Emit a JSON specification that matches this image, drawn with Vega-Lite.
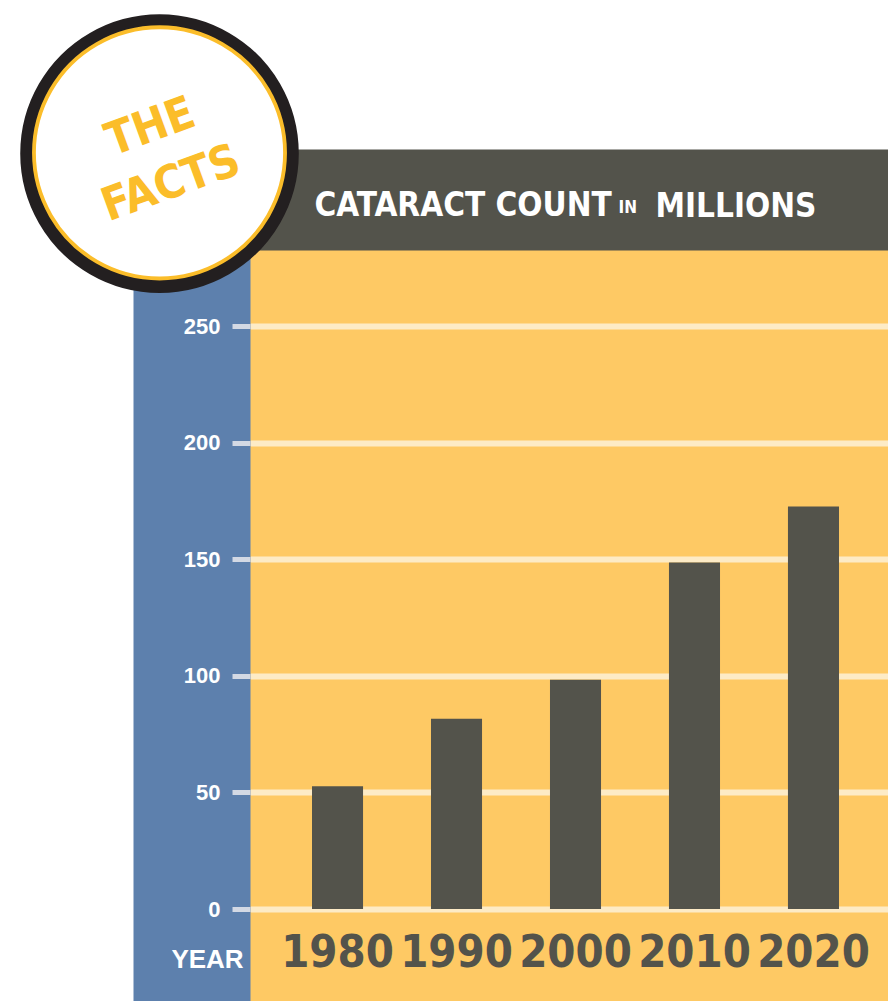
{
  "$schema": "https://vega.github.io/schema/vega-lite/v6.json",
  "width": 638,
  "height": 751,
  "autosize": {"type": "none"},
  "padding": {"left": 250, "top": 250, "right": 0, "bottom": 0},
  "background": "white",
  "config": {"view": {"stroke": null, "fill": "#fec964"}},
  "data": {"values": [
    {"year": "1980", "count": 52.6},
    {"year": "1990", "count": 81.6},
    {"year": "2000", "count": 98.3},
    {"year": "2010", "count": 148.6},
    {"year": "2020", "count": 172.6}
  ]},
  "resolve": {"axis": {"x": "independent", "y": "independent"}},
  "layer": [
    {
      "mark": {"type": "bar", "color": "#53534b"},
      "encoding": {
        "x": {"field": "year", "type": "nominal", "sort": null,
          "scale": {"domain": ["1980", "1990", "2000", "2010", "2020"], "paddingInner": 0.571, "paddingOuter": 0.4664, "align": 0.5586},
          "axis": {"orient": "bottom", "offset": -91.5, "domain": false, "ticks": false, "tickSize": 0, "grid": false,
            "labelFont": "DejaVu Sans Condensed", "labelFontWeight": "bold", "labelFontSize": 45, "labelColor": "#53534b",
            "labelPadding": 42.5, "labelBaseline": "middle", "labelAngle": 0, "labelOverlap": false, "labelBound": false, "labelFlush": false,
            "title": "YEAR", "titleX": -43, "titleY": 49.5, "titleAlign": "center", "titleBaseline": "middle", "titleAngle": 0,
            "titleFont": "Liberation Sans", "titleFontSize": 26, "titleFontWeight": "bold", "titleColor": "white", "zindex": 1}},
        "y": {"field": "count", "type": "quantitative",
          "scale": {"domain": [-39.45, 282.6], "nice": false, "zero": false},
          "axis": {"orient": "left", "offset": 58.5, "domain": true, "domainColor": "#5d80ad", "domainWidth": 117, "domainCap": "butt",
            "labels": false, "ticks": false, "grid": false,
            "title": "●", "titleFont": "DejaVu Sans", "titleFontSize": 365, "titleFontWeight": "normal", "titleColor": "#231f20",
            "titleAngle": 0, "titleX": -32.5, "titleY": -112.5, "titleAlign": "center", "titleBaseline": "middle"}}
      }
    },
    {
      "mark": {"type": "bar", "opacity": 0},
      "encoding": {
        "x": {"field": "year", "type": "nominal", "sort": null,
          "scale": {"domain": ["1980", "1990", "2000", "2010", "2020"], "paddingInner": 0.571, "paddingOuter": 0.4664, "align": 0.5586},
          "axis": {"orient": "top", "offset": 50.5, "domain": true, "domainColor": "#53534b", "domainWidth": 101, "domainCap": "butt",
            "labels": false, "ticks": false, "grid": false,
            "title": "CATARACT COUNT", "titleFont": "DejaVu Sans Condensed", "titleFontWeight": "bold", "titleFontSize": 33,
            "titleColor": "white", "titleX": 64, "titleY": 16, "titleAlign": "left", "titleBaseline": "alphabetic", "titleAngle": 0}},
        "y": {"field": "count", "type": "quantitative",
          "scale": {"domain": [-39.45, 282.6], "nice": false, "zero": false},
          "axis": {"orient": "left", "values": [0, 50, 100, 150, 200, 250], "domain": false,
            "grid": true, "gridColor": "#fdebc6", "gridWidth": 6,
            "ticks": true, "tickSize": 18, "tickWidth": 5, "tickColor": "#d3d9e4",
            "labelFont": "Liberation Sans", "labelFontWeight": "bold", "labelFontSize": 22, "labelColor": "white", "labelPadding": 12,
            "title": "●", "titleFont": "DejaVu Sans", "titleFontSize": 334, "titleFontWeight": "normal", "titleColor": "#fbbd2a",
            "titleAngle": 0, "titleX": -91, "titleY": -111.2, "titleAlign": "center", "titleBaseline": "middle"}}
      }
    },
    {
      "mark": {"type": "bar", "opacity": 0},
      "encoding": {
        "x": {"field": "year", "type": "nominal", "sort": null,
          "scale": {"domain": ["1980", "1990", "2000", "2010", "2020"], "paddingInner": 0.571, "paddingOuter": 0.4664, "align": 0.5586},
          "axis": {"orient": "top", "offset": 0, "domain": false, "labels": false, "ticks": false, "grid": false,
            "title": "IN", "titleFont": "DejaVu Sans Condensed", "titleFontWeight": "bold", "titleFontSize": 17,
            "titleColor": "white", "titleX": 368, "titleY": -38, "titleAlign": "left", "titleBaseline": "alphabetic", "titleAngle": 0}},
        "y": {"field": "count", "type": "quantitative",
          "scale": {"domain": [-39.45, 282.6], "nice": false, "zero": false},
          "axis": {"orient": "left", "domain": false, "labels": false, "ticks": false, "grid": false,
            "title": "●", "titleFont": "DejaVu Sans", "titleFontSize": 324, "titleFontWeight": "normal", "titleColor": "white",
            "titleAngle": 0, "titleX": -91, "titleY": -110.8, "titleAlign": "center", "titleBaseline": "middle"}}
      }
    },
    {
      "mark": {"type": "bar", "opacity": 0},
      "encoding": {
        "x": {"field": "year", "type": "nominal", "sort": null,
          "scale": {"domain": ["1980", "1990", "2000", "2010", "2020"], "paddingInner": 0.571, "paddingOuter": 0.4664, "align": 0.5586},
          "axis": {"orient": "top", "offset": 0, "domain": false, "labels": false, "ticks": false, "grid": false,
            "title": "MILLIONS", "titleFont": "DejaVu Sans Condensed", "titleFontWeight": "bold", "titleFontSize": 33,
            "titleColor": "white", "titleX": 405, "titleY": -34, "titleAlign": "left", "titleBaseline": "alphabetic", "titleAngle": 0}},
        "y": {"field": "count", "type": "quantitative",
          "scale": {"domain": [-39.45, 282.6], "nice": false, "zero": false},
          "axis": {"orient": "left", "domain": false, "labels": false, "ticks": false, "grid": false,
            "title": ["THE", "FACTS"], "titleFont": "DejaVu Sans Condensed", "titleFontSize": 46, "titleFontWeight": "bold",
            "titleColor": "#fbbd2a", "titleLineHeight": 60,
            "titleAngle": 340, "titleX": -100, "titleY": -123, "titleAlign": "center", "titleBaseline": "middle"}}
      }
    }
  ]
}
